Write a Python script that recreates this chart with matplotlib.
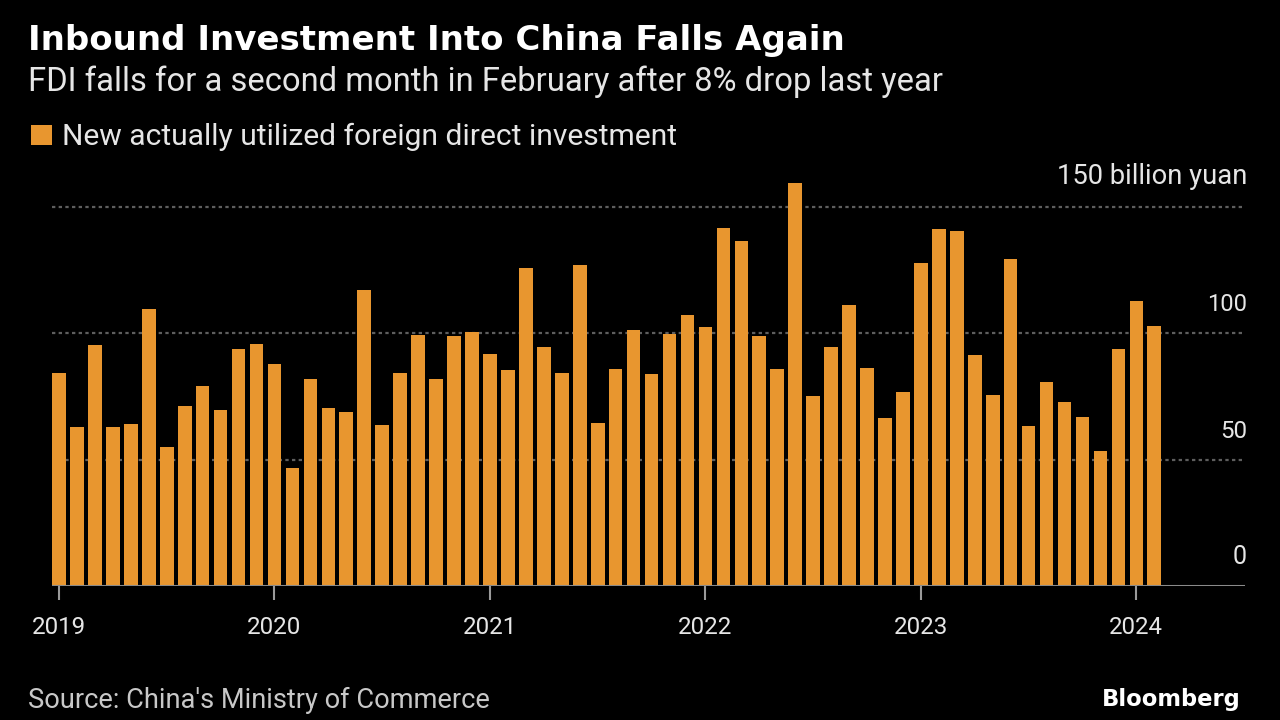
import matplotlib
matplotlib.use("Agg")
import matplotlib.pyplot as plt
import matplotlib.transforms as mtransforms
from matplotlib import font_manager
from matplotlib.patches import Rectangle
import pandas as pd

# ---------------- data ----------------
months = pd.date_range("2019-01-01", periods=62, freq="MS")
fdi_values = [84.4, 63.0, 95.5, 63.0, 64.0, 109.5, 55.0, 71.1, 79.3, 69.6, 93.8, 95.8,
              87.7, 46.8, 81.9, 70.4, 68.7, 117.1, 63.7, 84.4, 99.5, 81.9, 98.9, 100.6,
              91.8, 85.3, 125.8, 94.7, 84.2, 127.2, 64.5, 85.9, 101.4, 83.9, 99.6, 107.4,
              102.5, 141.7, 136.5, 99.1, 85.9, 159.4, 75.2, 94.6, 111.2, 86.4, 66.4, 76.9,
              127.9, 141.2, 140.5, 91.3, 75.5, 129.3, 63.2, 80.7, 72.9, 67.0, 53.4, 93.9,
              112.8, 102.8]
year_labels = ["2019", "2020", "2021", "2022", "2023", "2024"]
y_ticks = [0, 50, 100, 150]
y_tick_labels = ["0", "50", "100", "150 billion yuan"]

title = "Inbound Investment Into China Falls Again"
subtitle = "FDI falls for a second month in February after 8% drop last year"
legend_label = "New actually utilized foreign direct investment"
source = "Source: China's Ministry of Commerce"

# ---------------- style ----------------
BG = "#000000"
BAR = "#E8962F"
TXT = "#e6e6e6"
GRID = "#5e5e5e"

available = {f.name for f in font_manager.fontManager.ttflist}
if "Liberation Sans Narrow" in available:
    COND = ["Liberation Sans Narrow", "DejaVu Sans"]
else:
    COND = ["Roboto", "DejaVu Sans"]

W, H = 1280, 720
fig = plt.figure(figsize=(12.8, 7.2), dpi=100, facecolor=BG)
renderer = fig.canvas.get_renderer()


def px(x, y):
    return x / W, 1 - y / H


def fit(t, target_w):
    w = t.get_window_extent(renderer).width
    t.set_fontsize(t.get_fontsize() * target_w / w)
    return t


# axes placement (pixels)
left_px, right_px, base_px = 52, 1245, 586
ymax = 160
px_per_unit = 2.527
top_px = base_px - ymax * px_per_unit
ax = fig.add_axes([left_px / W, 1 - base_px / H, (right_px - left_px) / W, (base_px - top_px) / H])
ax.set_facecolor(BG)

x = list(range(len(fdi_values)))
ax.set_xlim(-0.39, 66.05)
ax.set_ylim(0, ymax)

for v in y_ticks[1:]:
    ax.axhline(v, color=GRID, lw=1.6, ls=(0, (1.5, 1.5)), zorder=1, xmax=0.998)
ax.bar(x, fdi_values, width=0.76, color=BAR, zorder=2)
ax.axhline(0, color="#8a8a8a", lw=2.2, zorder=3)

for s in ax.spines.values():
    s.set_visible(False)
ax.set_yticks([])
jan_idx = [i for i, m in enumerate(months) if m.month == 1]
ax.set_xticks(jan_idx)
ax.set_xticklabels([])
ax.tick_params(axis="x", length=10, width=1.5, color="#9a9a9a", pad=0)

# year labels
for i, lab in zip(jan_idx, year_labels):
    t = ax.text(i, 0, lab, color=TXT, family=COND, fontsize=18, ha="center", va="baseline",
                transform=ax.transData + mtransforms.ScaledTranslation(0, -48 / 100, fig.dpi_scale_trans))
    fit(t, 54)

# y labels (right side, above gridlines)
ytrans = mtransforms.blended_transform_factory(fig.transFigure, ax.transData) + \
    mtransforms.ScaledTranslation(0, 17 / 100, fig.dpi_scale_trans)
widths = {"0": 14, "50": 27, "100": 40, "150 billion yuan": 190}
for v, lab in zip(y_ticks, y_tick_labels):
    t = ax.text(1247 / W, v, lab, color=TXT, family=COND, fontsize=18, ha="right", va="bottom",
                transform=ytrans)
    fit(t, widths[lab])

# header texts
t = fig.text(*px(28, 50), title, color="white", family="DejaVu Sans", weight="bold",
             fontsize=20, ha="left", va="baseline")
fit(t, 815)
t = fig.text(*px(28, 91), subtitle, color=TXT, family=COND, fontsize=20, ha="left", va="baseline")
fit(t, 912)

fig.patches.append(Rectangle(px(31, 145), 21 / W, 20 / H, transform=fig.transFigure,
                             facecolor=BAR, edgecolor="none"))
t = fig.text(*px(62, 145), legend_label, color=TXT, family=COND, fontsize=20, ha="left", va="baseline")
fit(t, 613)

t = fig.text(*px(28, 708), source, color="#c8c8c8", family=COND, fontsize=18, ha="left", va="baseline")
fit(t, 462)
t = fig.text(*px(1102, 706), "Bloomberg", color="white", family="DejaVu Sans", weight="bold",
             fontsize=18, ha="left", va="baseline")
fit(t, 139)

fig.savefig("out.png", dpi=100, facecolor=BG)
